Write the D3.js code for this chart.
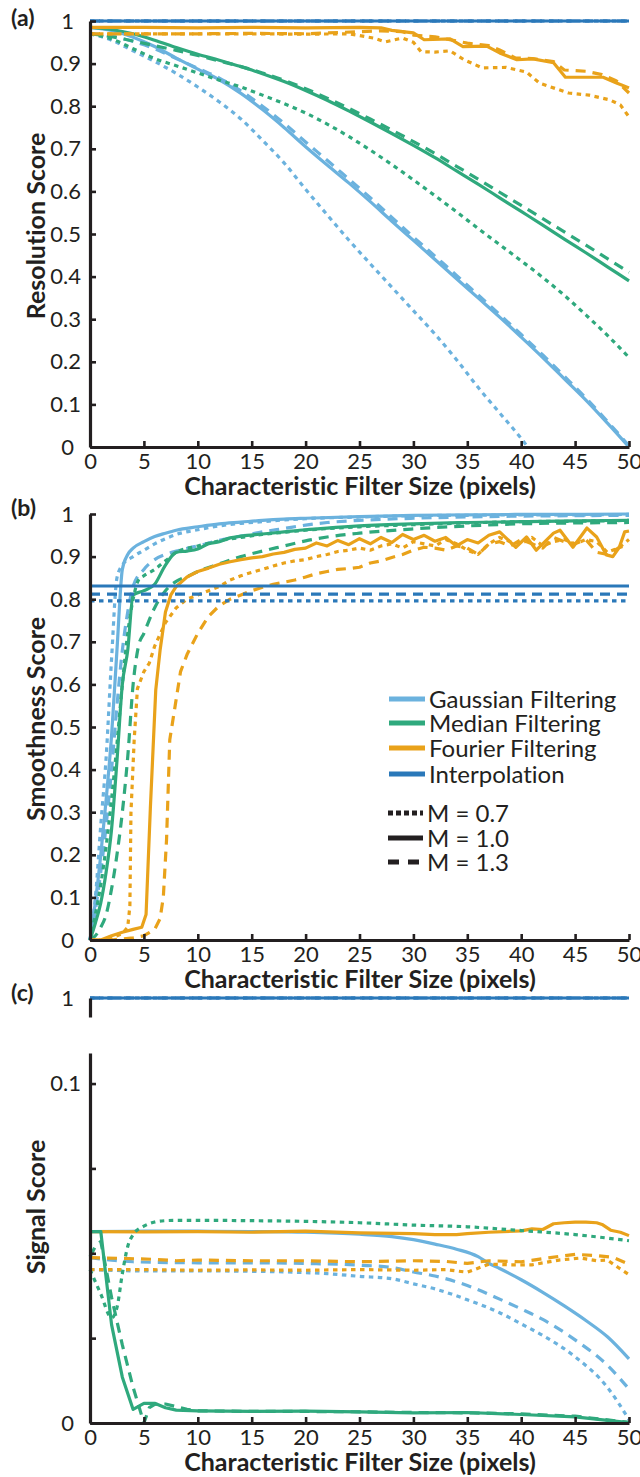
<!DOCTYPE html>
<html><head><meta charset="utf-8">
<script src="https://cdn.jsdelivr.net/npm/d3@7"></script>
<style>
body{margin:0;background:#fff}
text{font-family:Lato,'Open Sans',sans-serif;fill:#231f20;font-variant-ligatures:none;font-feature-settings:"liga" 0}
</style>
</head><body>
<svg id="chart" width="640" height="1477"></svg>
<script>
// ---------- tick labels / categories ----------
const xTicks = [0,5,10,15,20,25,30,35,40,45,50];
const yTicksAB = [0,0.1,0.2,0.3,0.4,0.5,0.6,0.7,0.8,0.9,1];
const yTicksC = [0,0.025,0.05,0.075,0.1];
const yLabelsC = ["0","","","","0.1"];
const methods = ["Gaussian Filtering","Median Filtering","Fourier Filtering","Interpolation"];
const mLabels = ["M = 0.7","M = 1.0","M = 1.3"];
const xTitle = "Characteristic Filter Size (pixels)";

// ---------- (a) Resolution Score ----------
const resGaussM07 = [[0,0.97],[2,0.955],[4,0.93],[6,0.905],[8,0.877],[10,0.845],[12,0.81],[14,0.77],[16,0.72],[18,0.667],[20,0.605],[22,0.545],[24,0.486],[26,0.43],[28,0.375],[30,0.32],[32,0.265],[34,0.205],[36,0.14],[38,0.08],[40,0.02],[40.6,0]];
const resGaussM10 = [[0,0.985],[2,0.978],[4,0.962],[6,0.94],[8,0.913],[10,0.887],[12,0.862],[14,0.83],[16,0.792],[18,0.75],[20,0.705],[22,0.662],[24,0.62],[26,0.576],[28,0.53],[30,0.485],[32,0.44],[34,0.395],[36,0.35],[38,0.305],[40,0.258],[42,0.21],[44,0.16],[46,0.11],[48,0.056],[50,0.0]];
const resGaussM13 = [[0,0.97],[2,0.965],[4,0.952],[6,0.935],[8,0.912],[10,0.889],[12,0.866],[14,0.836],[16,0.8],[18,0.76],[20,0.716],[22,0.673],[24,0.629],[26,0.585],[28,0.539],[30,0.493],[32,0.448],[34,0.403],[36,0.357],[38,0.311],[40,0.264],[42,0.216],[44,0.166],[46,0.115],[48,0.06],[50,0.003]];
const resMedM07 = [[0,0.97],[2,0.958],[4,0.935],[6,0.912],[8,0.895],[10,0.878],[12,0.861],[14,0.845],[16,0.826],[18,0.806],[20,0.784],[22,0.758],[24,0.729],[26,0.697],[28,0.663],[30,0.627],[32,0.59],[34,0.552],[36,0.513],[38,0.475],[40,0.437],[42,0.398],[44,0.356],[46,0.31],[48,0.262],[50,0.21]];
const resMedM10 = [[0,0.985],[2,0.98],[4,0.97],[6,0.955],[8,0.938],[10,0.922],[12,0.908],[14,0.893],[16,0.876],[18,0.858],[20,0.837],[22,0.814],[24,0.789],[26,0.763],[28,0.736],[30,0.708],[32,0.679],[34,0.648],[36,0.617],[38,0.585],[40,0.553],[42,0.521],[44,0.488],[46,0.456],[48,0.423],[50,0.39]];
const resMedM13 = [[0,0.97],[2,0.963],[4,0.953],[6,0.942],[8,0.931],[10,0.919],[12,0.906],[14,0.893],[16,0.878],[18,0.861],[20,0.841],[22,0.819],[24,0.795],[26,0.77],[28,0.744],[30,0.717],[32,0.689],[34,0.659],[36,0.629],[38,0.598],[40,0.567],[42,0.536],[44,0.505],[46,0.474],[48,0.442],[50,0.41]];
const resFourM07 = [[0,0.97],[5,0.97],[10,0.97],[15,0.97],[20,0.969],[24,0.97],[26.3,0.96],[27.4,0.951],[29,0.96],[30,0.95],[30.7,0.928],[32,0.927],[33.4,0.93],[34.7,0.909],[36.4,0.89],[38.6,0.891],[40.5,0.88],[41.7,0.854],[44.4,0.831],[46.3,0.826],[48.2,0.815],[49.2,0.803],[50,0.775]];
const resFourM10 = [[0,0.985],[5,0.985],[10,0.984],[15,0.985],[20,0.984],[25,0.985],[27,0.984],[28,0.978],[30,0.972],[31,0.956],[33.4,0.958],[34.6,0.94],[36.8,0.941],[38,0.925],[39.6,0.909],[41.1,0.911],[43,0.902],[44.1,0.868],[47.6,0.868],[48.9,0.854],[50,0.843]];
const resFourM13 = [[0,0.97],[5,0.97],[10,0.97],[15,0.971],[20,0.97],[22,0.972],[25,0.975],[27,0.977],[29,0.975],[30,0.967],[32,0.963],[33,0.958],[35,0.948],[37,0.942],[38,0.932],[39.5,0.913],[41,0.912],[43,0.905],[44,0.885],[46,0.882],[47.5,0.874],[48.8,0.86],[50,0.831]];
const resInterp = [[0,1],[50,1]];

// ---------- (b) Smoothness Score ----------
const smoGaussM07 = [[0,0],[0.5,0.1],[1,0.27],[1.5,0.43],[2,0.66],[2.5,0.85],[3,0.88],[4,0.9],[5,0.915],[6,0.93],[7,0.942],[8,0.952],[10,0.963],[12,0.972],[14,0.978],[16,0.982],[18,0.986],[20,0.989],[25,0.993],[30,0.996],[35,0.997],[40,0.998],[45,0.998],[50,0.999]];
const smoGaussM10 = [[0,0],[0.5,0.09],[1,0.2],[1.5,0.33],[2,0.48],[2.5,0.68],[3,0.87],[3.5,0.905],[4,0.92],[5,0.935],[6,0.947],[7,0.955],[8,0.962],[10,0.97],[12,0.977],[14,0.981],[16,0.985],[18,0.988],[20,0.99],[25,0.994],[30,0.997],[35,0.998],[40,0.999],[45,0.999],[50,1.0]];
const smoGaussM13 = [[0,0],[0.5,0.07],[1,0.16],[1.5,0.27],[2,0.4],[2.5,0.55],[3,0.68],[3.5,0.77],[4,0.83],[5,0.87],[6,0.893],[7,0.905],[8,0.913],[10,0.925],[12,0.938],[14,0.948],[16,0.958],[18,0.966],[20,0.974],[22,0.98],[25,0.985],[30,0.99],[35,0.993],[40,0.995],[45,0.996],[50,0.997]];
const smoMedM07 = [[0,0],[0.5,0.06],[1,0.13],[1.5,0.22],[2,0.33],[2.5,0.46],[3,0.6],[3.5,0.72],[4,0.8],[4.5,0.845],[5,0.855],[6,0.87],[7,0.89],[8,0.91],[10,0.925],[12,0.937],[14,0.945],[16,0.952],[18,0.957],[20,0.962],[25,0.97],[30,0.975],[35,0.979],[40,0.982],[45,0.983],[50,0.985]];
const smoMedM10 = [[0,0],[0.5,0.04],[1,0.087],[1.5,0.16],[2,0.26],[2.5,0.42],[3,0.6],[3.5,0.68],[4,0.81],[5,0.82],[6,0.835],[7,0.88],[8,0.91],[9,0.913],[10,0.918],[11,0.93],[12,0.935],[13,0.944],[14,0.948],[16,0.953],[18,0.958],[20,0.963],[22,0.967],[25,0.972],[30,0.977],[35,0.98],[40,0.982],[45,0.984],[50,0.985]];
const smoMedM13 = [[0,0],[0.5,0.01],[1,0.03],[1.5,0.06],[2,0.12],[2.5,0.2],[3,0.3],[3.5,0.43],[4,0.6],[4.5,0.69],[5,0.72],[6,0.78],[7,0.82],[8,0.842],[9,0.853],[10,0.865],[12,0.883],[14,0.9],[16,0.913],[18,0.925],[20,0.937],[22,0.946],[25,0.955],[30,0.965],[35,0.972],[40,0.977],[45,0.979],[50,0.98]];
const smoFourM07 = [[0,0],[1,0],[2,0.005],[3,0.015],[3.5,0.03],[3.7,0.08],[3.8,0.3],[4.1,0.47],[4.4,0.59],[5,0.63],[5.5,0.65],[6,0.69],[7,0.745],[8,0.78],[9,0.8],[10,0.81],[11,0.82],[12,0.83],[13,0.845],[14,0.855],[15,0.863],[16,0.87],[17,0.878],[18,0.885],[19,0.89],[20,0.893],[21,0.9],[22,0.905],[23,0.912],[24,0.915],[25,0.92],[26,0.915],[27,0.925],[28,0.93],[29,0.92],[30,0.935],[31,0.93],[32,0.925],[33,0.94],[34,0.93],[35,0.915],[36,0.905],[37,0.93],[38,0.945],[39,0.935],[40,0.93],[41,0.945],[42,0.925],[43,0.935],[44,0.94],[45,0.93],[46,0.94],[47,0.935],[48,0.91],[49,0.92],[50,0.94]];
const smoFourM10 = [[0,0],[1,0],[2,0.01],[3,0.018],[4,0.025],[4.8,0.03],[5.2,0.06],[5.6,0.31],[6.1,0.587],[6.5,0.68],[7,0.77],[7.5,0.81],[8,0.83],[9,0.852],[10,0.865],[11,0.873],[12,0.882],[13,0.888],[14,0.893],[15,0.897],[16,0.9],[17,0.906],[18,0.91],[19,0.917],[20,0.92],[21,0.932],[22,0.925],[23,0.938],[24,0.928],[25,0.942],[26,0.93],[27,0.945],[28,0.933],[29,0.952],[30,0.94],[31,0.95],[32,0.936],[33,0.945],[34,0.925],[35,0.94],[36,0.932],[37,0.95],[38,0.958],[39.5,0.922],[40.5,0.946],[41.4,0.915],[43,0.955],[43.6,0.962],[44.8,0.922],[46.1,0.967],[47,0.946],[47.9,0.904],[48.5,0.9],[49.1,0.922],[49.6,0.958],[50,0.96]];
const smoFourM13 = [[0,0],[2,0],[4,0.005],[5,0.01],[6,0.025],[6.5,0.05],[6.8,0.1],[7.1,0.235],[7.4,0.47],[7.9,0.55],[8.4,0.63],[9,0.67],[9.6,0.7],[10,0.72],[11,0.76],[12,0.785],[13,0.8],[14,0.81],[15,0.82],[16,0.828],[17,0.835],[18,0.84],[19,0.845],[20,0.852],[21,0.86],[22,0.865],[23,0.87],[24,0.872],[25,0.875],[26,0.885],[27,0.89],[28,0.898],[29,0.905],[30,0.915],[31,0.922],[32,0.92],[33,0.915],[34,0.925],[35,0.92],[36,0.905],[37,0.93],[38,0.935],[39,0.925],[40,0.94],[41,0.93],[42,0.92],[43,0.945],[44,0.935],[45,0.93],[46,0.94],[47,0.91],[48,0.905],[49,0.92],[50,0.93]];
const smoInterpM07 = [[0,0.796],[50,0.796]];
const smoInterpM10 = [[0,0.831],[50,0.831]];
const smoInterpM13 = [[0,0.812],[50,0.812]];

// ---------- (c) Signal Score ----------
const sigGaussM07 = [[0,0.0452],[5,0.0448],[10,0.0448],[15,0.0447],[20,0.0443],[22,0.044],[25,0.0432],[28,0.0425],[30,0.041],[32,0.0395],[35,0.0363],[38,0.0325],[40,0.0292],[42,0.0258],[45,0.0195],[48,0.0105],[50,0.001]];
const sigGaussM10 = [[0,0.0564],[5,0.0565],[10,0.0565],[15,0.0564],[20,0.0562],[25,0.0556],[28,0.0549],[30,0.054],[32,0.0527],[34,0.0512],[36,0.049],[37,0.047],[38,0.0455],[40,0.0422],[42,0.0385],[44,0.0345],[46,0.0302],[48,0.0254],[50,0.0189]];
const sigGaussM13 = [[0,0.0487],[2,0.048],[4,0.0475],[10,0.0472],[15,0.0472],[20,0.047],[25,0.0465],[28,0.0458],[30,0.0445],[32,0.0433],[35,0.0405],[38,0.0365],[40,0.0336],[42,0.0305],[45,0.0245],[48,0.017],[50,0.010]];
const sigMedM07 = [[0,0.0452],[1,0.038],[2,0.031],[2.5,0.034],[3,0.044],[3.5,0.052],[4,0.0555],[5,0.058],[6,0.0592],[7,0.0596],[8,0.0597],[10,0.0597],[15,0.0596],[20,0.0594],[25,0.059],[30,0.0583],[35,0.0578],[40,0.0567],[45,0.0555],[50,0.0537]];
const sigMedM10 = [[0,0.0564],[1,0.0564],[2,0.029],[3,0.0135],[4,0.004],[5,0.0058],[6,0.0058],[7,0.0045],[8,0.0038],[10,0.0036],[15,0.0034],[20,0.0035],[25,0.0033],[30,0.003],[35,0.0031],[40,0.0025],[45,0.0018],[48,0.0008],[50,0.0001]];
const sigMedM13 = [[0,0.049],[0.5,0.052],[1,0.0535],[2,0.037],[3,0.023],[4,0.0105],[5,0.0],[5.5,0.0045],[6,0.0055],[7,0.0056],[8,0.0048],[9,0.004],[10,0.0036],[15,0.0034],[20,0.0034],[25,0.0033],[30,0.0031],[35,0.003],[40,0.0027],[45,0.002],[48,0.0009],[50,0.0002]];
const sigFourM07 = [[0,0.0452],[5,0.0452],[10,0.045],[15,0.0451],[20,0.045],[25,0.0452],[30,0.045],[33,0.0452],[35,0.0444],[37,0.0468],[39,0.0466],[41,0.0466],[43.5,0.048],[45.5,0.0486],[47,0.0478],[48,0.048],[49,0.0458],[50,0.0437]];
const sigFourM10 = [[0,0.0564],[5,0.0563],[10,0.0564],[15,0.0562],[20,0.0565],[25,0.056],[30,0.0558],[32,0.0555],[34,0.0555],[35,0.0558],[37,0.0562],[40,0.0566],[41,0.0572],[42,0.057],[43,0.0587],[44,0.059],[45,0.0592],[46,0.0592],[47,0.059],[47.5,0.0585],[48.3,0.0568],[49.2,0.0562],[50,0.0552]];
const sigFourM13 = [[0,0.0487],[3,0.0485],[6,0.0482],[8,0.0478],[10,0.048],[15,0.0478],[20,0.0478],[25,0.0475],[30,0.0478],[33,0.0476],[35,0.047],[37,0.0478],[40,0.0475],[42,0.0484],[44,0.0493],[45,0.0497],[47,0.0493],[48.5,0.0488],[50,0.0468]];
const sigInterp = [[0,1],[50,1]];

// ---------- styles ----------
const colors = {gauss:"#6bb2de", med:"#2fa97d", four:"#e9a21a", interp:"#2a78b9"};
const dashes = {m07:"4.5,4.5", m10:null, m13:"10,7"};
const ink = "#231f20";

const svg = d3.select("#chart");
const x = d3.scaleLinear().domain([0,50]).range([90,629]);
const yA = d3.scaleLinear().domain([0,1]).range([447,21]);
const yB = d3.scaleLinear().domain([0,1]).range([940,514]);
const yC = d3.scaleLinear().domain([0,0.109]).range([1423,1053]);
const yCt = d3.scaleLinear().domain([0.994,1]).range([1017,998]);

function drawLine(y, data, color, dash, curve){
  const line = d3.line().x(d=>x(d[0])).y(d=>y(d[1])).curve(curve||d3.curveMonotoneX);
  svg.append("path").datum(data).attr("d",line)
    .attr("fill","none").attr("stroke",color).attr("stroke-width",3.2)
    .attr("stroke-dasharray",dash).attr("stroke-linecap","butt").attr("stroke-linejoin","round");
}

function fmtY(d){ return d===0?"0":d===1?"1":d3.format(".1f")(d); }

function styleAxis(g){
  g.select(".domain").attr("stroke",ink).attr("stroke-width",3.2);
  g.selectAll(".tick line").attr("stroke",ink).attr("stroke-width",2.6);
  g.selectAll(".tick text").attr("fill",ink).style("font-size","22px").style("font-family","Lato,'Open Sans',sans-serif");
}

function xAxis(y0){
  const g = svg.append("g").attr("transform",`translate(0,${y0})`)
    .call(d3.axisBottom(x).tickValues(xTicks).tickSize(-6).tickSizeOuter(0).tickPadding(6).tickFormat(d3.format("d")));
  styleAxis(g);
  svg.append("text").attr("x",360).attr("y",y0+48).attr("text-anchor","middle")
    .style("font-size","25px").style("font-weight","700").text(xTitle);
}

function yAxisAB(y){
  const g = svg.append("g").attr("transform","translate(90,0)")
    .call(d3.axisLeft(y).tickValues(yTicksAB).tickSize(-6).tickSizeOuter(0).tickPadding(9).tickFormat(fmtY));
  styleAxis(g);
  g.selectAll(".tick text").attr("dx",d=>(d===0||d===1)?-7:0);
}

function yTitle(text, cy){
  svg.append("text").attr("transform",`translate(45,${cy}) rotate(-90)`).attr("text-anchor","middle")
    .style("font-size","25px").style("font-weight","700").text(text);
}
function panelLabel(t, yb){
  svg.append("text").attr("x",11).attr("y",yb).style("font-size","23px").style("font-weight","700").text(t);
}

// ===== Panel (a) =====
drawLine(yA,resGaussM07,colors.gauss,dashes.m07);
drawLine(yA,resGaussM13,colors.gauss,dashes.m13);
drawLine(yA,resGaussM10,colors.gauss,dashes.m10);
drawLine(yA,resMedM07,colors.med,dashes.m07);
drawLine(yA,resMedM13,colors.med,dashes.m13);
drawLine(yA,resMedM10,colors.med,dashes.m10);
drawLine(yA,resFourM07,colors.four,dashes.m07,d3.curveLinear);
drawLine(yA,resFourM13,colors.four,dashes.m13,d3.curveLinear);
drawLine(yA,resFourM10,colors.four,dashes.m10,d3.curveLinear);
drawLine(yA,resInterp,colors.interp,dashes.m07);
drawLine(yA,resInterp,colors.interp,dashes.m13);
drawLine(yA,resInterp,colors.interp,dashes.m10);
yAxisAB(yA); xAxis(447);
yTitle("Resolution Score",226); panelLabel("(a)",26);

// ===== Panel (b) =====
drawLine(yB,smoGaussM07,colors.gauss,dashes.m07);
drawLine(yB,smoGaussM13,colors.gauss,dashes.m13);
drawLine(yB,smoGaussM10,colors.gauss,dashes.m10);
drawLine(yB,smoMedM07,colors.med,dashes.m07);
drawLine(yB,smoMedM13,colors.med,dashes.m13);
drawLine(yB,smoMedM10,colors.med,dashes.m10);
drawLine(yB,smoFourM07,colors.four,dashes.m07,d3.curveLinear);
drawLine(yB,smoFourM13,colors.four,dashes.m13,d3.curveLinear);
drawLine(yB,smoFourM10,colors.four,dashes.m10,d3.curveLinear);
drawLine(yB,smoInterpM07,colors.interp,dashes.m07);
drawLine(yB,smoInterpM13,colors.interp,dashes.m13);
drawLine(yB,smoInterpM10,colors.interp,dashes.m10);
yAxisAB(yB); xAxis(940);
yTitle("Smoothness Score",719); panelLabel("(b)",516);

// legend
const legColors = [colors.gauss,colors.med,colors.four,colors.interp];
const legY = [699,723,748,774];
methods.forEach((m,i)=>{
  svg.append("line").attr("x1",389).attr("x2",425).attr("y1",legY[i]).attr("y2",legY[i])
    .attr("stroke",legColors[i]).attr("stroke-width",5);
  svg.append("text").attr("x",429).attr("y",legY[i]+9).style("font-size","24px").text(m);
});
const mY = [813,838,862];
const mDash = ["5,3",null,"11,9"];
mLabels.forEach((m,i)=>{
  svg.append("line").attr("x1",388).attr("x2",423).attr("y1",mY[i]).attr("y2",mY[i])
    .attr("stroke",ink).attr("stroke-width",5).attr("stroke-dasharray",mDash[i]);
  svg.append("text").attr("x",427).attr("y",mY[i]+9).style("font-size","24px").text(m);
});

// ===== Panel (c) =====
drawLine(yC,sigGaussM07,colors.gauss,dashes.m07);
drawLine(yC,sigGaussM13,colors.gauss,dashes.m13);
drawLine(yC,sigGaussM10,colors.gauss,dashes.m10);
drawLine(yC,sigFourM07,colors.four,dashes.m07,d3.curveLinear);
drawLine(yC,sigFourM13,colors.four,dashes.m13,d3.curveLinear);
drawLine(yC,sigFourM10,colors.four,dashes.m10,d3.curveLinear);
drawLine(yC,sigMedM07,colors.med,dashes.m07);
drawLine(yC,sigMedM13,colors.med,dashes.m13,d3.curveLinear);
drawLine(yC,sigMedM10,colors.med,dashes.m10,d3.curveLinear);
drawLine(yCt,sigInterp,colors.interp,dashes.m07);
drawLine(yCt,sigInterp,colors.interp,dashes.m13);
drawLine(yCt,sigInterp,colors.interp,dashes.m10);

const gcl = svg.append("g").attr("transform","translate(90,0)")
  .call(d3.axisLeft(yC).tickValues(yTicksC).tickSize(-6).tickSizeOuter(0).tickPadding(9)
    .tickFormat((d,i)=>yLabelsC[i]));
styleAxis(gcl);
gcl.selectAll(".tick text").attr("dx",d=>d===0?-7:0);
const gct = svg.append("g").attr("transform","translate(90,0)")
  .call(d3.axisLeft(yCt).tickValues([1]).tickSize(0).tickSizeOuter(0).tickPadding(9).tickFormat(()=>"1"));
styleAxis(gct);
gct.selectAll(".tick text").attr("dx",-7);
xAxis(1423);
yTitle("Signal Score",1207); panelLabel("(c)",1001);
</script>
</body></html>
